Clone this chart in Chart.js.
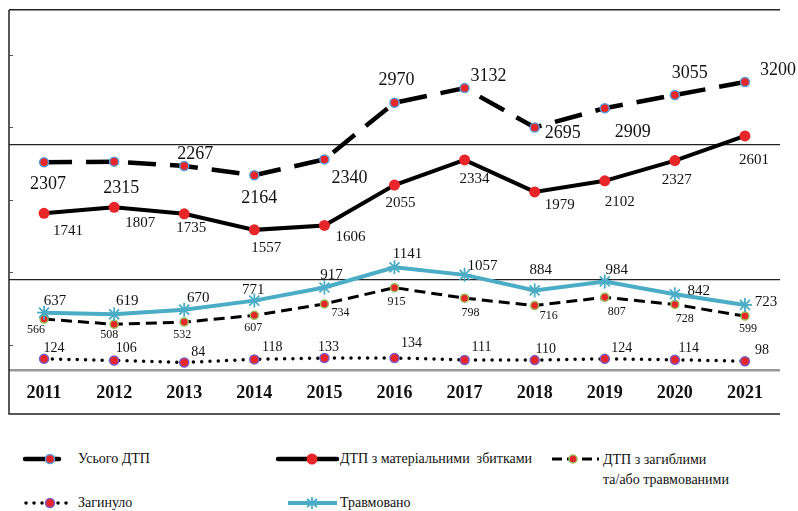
<!DOCTYPE html>
<html>
<head>
<meta charset="utf-8">
<script src="https://cdn.jsdelivr.net/npm/chart.js@4.4.1/dist/chart.umd.min.js"></script>
<style>
  html, body { margin: 0; padding: 0; background: #fff; }
  body { width: 798px; height: 511px; position: relative; overflow: hidden; font-family: "Liberation Serif", "DejaVu Serif", serif; }
  #wrap { position: absolute; left: 0; top: 0; width: 798px; height: 420px; }
  .lg { position: absolute; font-size: 14px; color: #111; line-height: 20px; white-space: nowrap; }
  .sw { position: absolute; }
</style>
</head>
<body>
<div id="wrap"><canvas id="c"></canvas></div>

<svg class="sw" style="left:20px;top:449px" width="60" height="20">
  <line x1="5" y1="10" x2="39" y2="10" stroke="#000" stroke-width="4.5" stroke-linecap="round"/>
  <circle cx="30" cy="10" r="4.5" fill="#e8262a" stroke="#5b9bd5" stroke-width="1.5"/>
</svg>
<div class="lg" style="left:78px;top:449px">Усього ДТП</div>

<svg class="sw" style="left:274px;top:449px" width="70" height="20">
  <line x1="4" y1="10" x2="63" y2="10" stroke="#000" stroke-width="4.5" stroke-linecap="round"/>
  <circle cx="38" cy="10" r="5.5" fill="#e8262a"/>
</svg>
<div class="lg" style="left:340px;top:449px">ДТП з матеріальними&nbsp; збитками</div>

<svg class="sw" style="left:548px;top:449px" width="56" height="20">
  <line x1="4" y1="10" x2="51" y2="10" stroke="#000" stroke-width="3" stroke-dasharray="10,5"/>
  <circle cx="25" cy="10" r="4" fill="#e8262a" stroke="#9bbb59" stroke-width="1.5"/>
</svg>
<div class="lg" style="left:603px;top:450px">ДТП з загиблими<br>та/або травмованими</div>

<svg class="sw" style="left:20px;top:493px" width="60" height="20">
  <line x1="6" y1="10" x2="52" y2="10" stroke="#000" stroke-width="3.5" stroke-dasharray="0,8" stroke-linecap="round"/>
  <circle cx="30" cy="10" r="4.5" fill="#e8262a" stroke="#7a5cc8" stroke-width="1.5"/>
</svg>
<div class="lg" style="left:78px;top:493px">Загинуло</div>

<svg class="sw" style="left:274px;top:493px" width="70" height="20">
  <line x1="14" y1="10" x2="63" y2="10" stroke="#4bacc6" stroke-width="4"/>
  <g stroke="#4bacc6" stroke-width="1.8">
    <line x1="38" y1="4" x2="38" y2="16"/>
    <line x1="33" y1="6" x2="43" y2="14"/>
    <line x1="33" y1="14" x2="43" y2="6"/>
  </g>
</svg>
<div class="lg" style="left:340px;top:493px">Травмовано</div>

<script>
// ---- data ----
const years = ['2011','2012','2013','2014','2015','2016','2017','2018','2019','2020','2021'];
const totalDTP    = [2307, 2315, 2267, 2164, 2340, 2970, 3132, 2695, 2909, 3055, 3200];
const materialDTP = [1741, 1807, 1735, 1557, 1606, 2055, 2334, 1979, 2102, 2327, 2601];
const injuredDTP  = [566, 508, 532, 607, 734, 915, 798, 716, 807, 728, 599];
const killed      = [124, 106, 84, 118, 133, 134, 111, 110, 124, 114, 98];
const injured     = [637, 619, 670, 771, 917, 1141, 1057, 884, 984, 842, 723];
const gridTicks   = [0, 1000, 2500, 4000];
const minorTicks  = [280, 1085, 1890, 2695, 3500];

// ---- label offsets (style) ----
const offTotal = [[4,22],[7,27],[11,-12],[5,23],[25,19],[2,-22],[24,-12],[28,6],[28,24],[15,-22],[33,-12]];
const offMat   = [[24,18],[26,16],[7,14],[12,18],[26,12],[6,18],[10,19],[25,13],[15,21],[2,19],[9,24]];
const offInjD  = [[-8,11],[-5,11],[-2,13],[-1,12],[16,9],[2,14],[6,15],[14,10],[12,14],[10,14],[3,13]];
const offKill  = [[10,-11],[12,-12],[14,-10],[18,-12],[4,-11],[17,-15],[17,-13],[11,-11],[17,-11],[14,-11],[17,-11]];
const offInj   = [[11,-12],[13,-13],[14,-12],[-1,-11],[7,-12],[13,-13],[18,-9],[6,-20],[12,-11],[24,-3],[21,-3]];

const RED = '#e8262a';

const labelPlugin = {
  id: 'labels',
  afterDatasetsDraw(chart) {
    const ctx = chart.ctx;
    chart.data.datasets.forEach((ds, i) => {
      const meta = chart.getDatasetMeta(i);
      ctx.save();
      ctx.font = ds.lblSize + 'px "Liberation Serif", serif';
      ctx.fillStyle = '#111';
      ctx.textAlign = 'center';
      ctx.textBaseline = 'middle';
      meta.data.forEach((el, j) => {
        const o = ds.lblOff[j];
        ctx.fillText(String(ds.data[j]), el.x + o[0], el.y + o[1]);
      });
      ctx.restore();
    });
  }
};

const framePlugin = {
  id: 'frame',
  afterDraw(chart) {
    const ctx = chart.ctx, a = chart.chartArea, y = chart.scales.y;
    const bottom = a.bottom + 44;
    ctx.save();
    ctx.strokeStyle = '#222';
    ctx.lineWidth = 1.5;
    ctx.beginPath();
    ctx.moveTo(a.left, a.top);
    ctx.lineTo(a.left, bottom);
    ctx.lineTo(a.right, bottom);
    ctx.stroke();
    ctx.lineWidth = 1;
    ctx.strokeStyle = '#555';
    minorTicks.forEach(v => {
      const py = Math.round(y.getPixelForValue(v)) + 0.5;
      ctx.beginPath();
      ctx.moveTo(a.left, py);
      ctx.lineTo(a.left + 4, py);
      ctx.stroke();
    });
    ctx.restore();
  }
};

new Chart(document.getElementById('c'), {
  type: 'line',
  data: {
    labels: years,
    datasets: [
      {
        label: 'Усього ДТП', data: totalDTP,
        borderColor: '#000', borderWidth: 4.5, borderDash: [28, 14],
        pointRadius: 4.5, pointBackgroundColor: RED, pointBorderColor: '#5b9bd5', pointBorderWidth: 1.5,
        tension: 0, lblSize: 18, lblOff: offTotal
      },
      {
        label: 'ДТП з матеріальними  збитками', data: materialDTP,
        borderColor: '#000', borderWidth: 4,
        pointRadius: 5.5, pointBackgroundColor: RED, pointBorderColor: RED, pointBorderWidth: 0,
        tension: 0, lblSize: 15, lblOff: offMat
      },
      {
        label: 'Травмовано', data: injured,
        borderColor: '#4bacc6', borderWidth: 4,
        pointStyle: 'star', pointRadius: 7, pointBorderColor: '#4bacc6', pointBorderWidth: 1.8,
        tension: 0, lblSize: 15, lblOff: offInj
      },
      {
        label: 'ДТП з загиблими та/або травмованими', data: injuredDTP,
        borderColor: '#000', borderWidth: 3, borderDash: [11, 6],
        pointRadius: 4, pointBackgroundColor: RED, pointBorderColor: '#9bbb59', pointBorderWidth: 1.5,
        tension: 0, lblSize: 12, lblOff: offInjD
      },
      {
        label: 'Загинуло', data: killed,
        borderColor: '#000', borderWidth: 3.5, borderDash: [0, 8.3], borderCapStyle: 'round',
        pointRadius: 4.5, pointBackgroundColor: RED, pointBorderColor: '#7a5cc8', pointBorderWidth: 1.5,
        tension: 0, lblSize: 14, lblOff: offKill
      }
    ]
  },
  options: {
    responsive: true,
    maintainAspectRatio: false,
    animation: false,
    layout: { padding: { left: 9, top: 10, right: 18, bottom: 0 } },
    plugins: { legend: { display: false }, tooltip: { enabled: false } },
    scales: {
      x: {
        offset: true,
        grid: { display: false, drawTicks: false },
        border: { display: false },
        ticks: { color: '#111', padding: 13, font: { family: '"Liberation Serif", serif', size: 18, weight: 'bold' } },
        afterFit(s) { s.height = 50; }
      },
      y: {
        min: 0, max: 4000,
        afterBuildTicks(s) { s.ticks = gridTicks.map(v => ({ value: v })); },
        ticks: { display: false },
        border: { display: false },
        grid: {
          drawTicks: false,
          color: ctx => ctx.tick.value === 0 ? '#999' : '#222',
          lineWidth: ctx => ctx.tick.value === 0 ? 2.5 : (ctx.tick.value === 4000 ? 1.5 : 1.2)
        },
        afterFit(s) { s.width = 0; }
      }
    }
  },
  plugins: [labelPlugin, framePlugin]
});
</script>
</body>
</html>
